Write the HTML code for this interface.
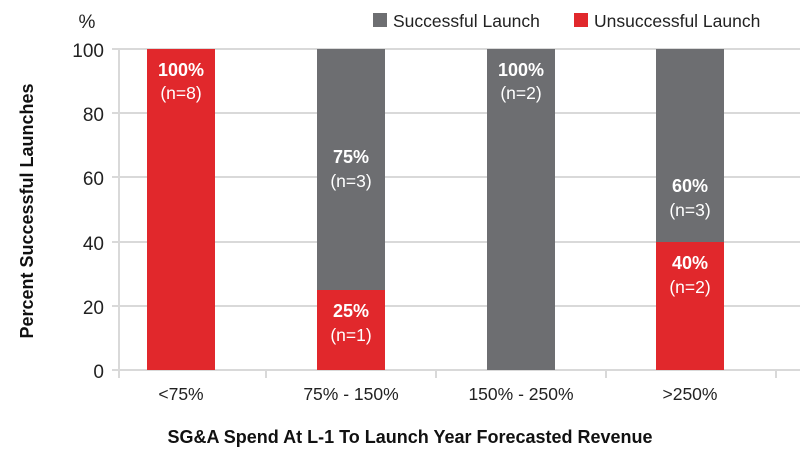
<!DOCTYPE html>
<html><head><style>
body{margin:0;background:#fff;}
svg{display:block;font-family:"Liberation Sans",sans-serif;}
</style></head><body>
<svg width="800" height="458" viewBox="0 0 800 458">
<g stroke="#d9d9d9" stroke-width="2">
<line x1="112" y1="49" x2="800" y2="49"/>
<line x1="112" y1="113" x2="800" y2="113"/>
<line x1="112" y1="177" x2="800" y2="177"/>
<line x1="112" y1="242" x2="800" y2="242"/>
<line x1="112" y1="306" x2="800" y2="306"/>
<line x1="112" y1="370" x2="800" y2="370"/>
<line x1="119" y1="49" x2="119" y2="378"/>
<line x1="266" y1="370" x2="266" y2="378"/>
<line x1="436" y1="370" x2="436" y2="378"/>
<line x1="606" y1="370" x2="606" y2="378"/>
<line x1="776" y1="370" x2="776" y2="378"/>
</g>
<g fill="#e1282c">
<rect x="147" y="49" width="68" height="321"/>
<rect x="317" y="290" width="68" height="80"/>
<rect x="656" y="242" width="68" height="128"/>
</g>
<g fill="#6d6e71">
<rect x="317" y="49" width="68" height="241"/>
<rect x="487" y="49" width="68" height="321"/>
<rect x="656" y="49" width="68" height="193"/>
</g>
<g font-size="19" fill="#222" text-anchor="end">
<text x="104" y="57">100</text><text x="104" y="121">80</text><text x="104" y="185">60</text>
<text x="104" y="250">40</text><text x="104" y="314">20</text><text x="104" y="378">0</text>
</g>
<text x="87" y="28" font-size="19" fill="#222" text-anchor="middle">%</text>
<g font-size="17.5" fill="#222" text-anchor="middle">
<text x="181" y="400">&lt;75%</text><text x="351" y="400">75% - 150%</text>
<text x="521" y="400">150% - 250%</text><text x="690" y="400">&gt;250%</text>
</g>
<text x="410" y="443" font-size="18" font-weight="bold" fill="#111" text-anchor="middle">SG&amp;A Spend At L-1 To Launch Year Forecasted Revenue</text>
<text transform="translate(33,211) rotate(-90)" font-size="18" font-weight="bold" fill="#111" text-anchor="middle">Percent Successful Launches</text>
<g fill="#fff" text-anchor="middle">
<g font-size="18" font-weight="bold">
<text x="181" y="76">100%</text><text x="351" y="163">75%</text><text x="351" y="317">25%</text>
<text x="521" y="76">100%</text><text x="690" y="192">60%</text><text x="690" y="269">40%</text>
</g>
<g font-size="17.5">
<text x="181" y="99">(n=8)</text><text x="351" y="187">(n=3)</text><text x="351" y="341">(n=1)</text>
<text x="521" y="99">(n=2)</text><text x="690" y="216">(n=3)</text><text x="690" y="293">(n=2)</text>
</g>
</g>
<rect x="373" y="13" width="14" height="14" fill="#6d6e71"/>
<text x="393" y="27" font-size="17.5" fill="#222">Successful Launch</text>
<rect x="574" y="13" width="14" height="14" fill="#e1282c"/>
<text x="594" y="27" font-size="17.5" fill="#222">Unsuccessful Launch</text>
</svg>
</body></html>
